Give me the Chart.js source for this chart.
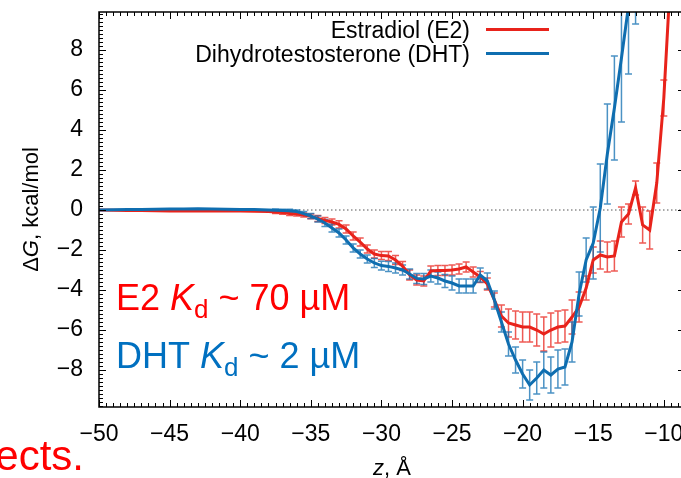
<!DOCTYPE html>
<html>
<head>
<meta charset="utf-8">
<script src="https://cdn.jsdelivr.net/npm/chart.js@4.4.0/dist/chart.umd.min.js"></script>
<style>
  html, body { margin: 0; padding: 0; background: #fff; overflow: hidden; }
  #wrap { width: 681px; height: 478px; overflow: hidden; }
  canvas { display: block; }
</style>
</head>
<body>
<div id="wrap"><canvas id="pmf" width="700" height="478"></canvas></div>
<script>
// z positions (Å) shared by both profiles
const zGrid = [-50, -49, -48, -47, -46, -45, -44, -43, -42, -41, -40, -39, -38,
  -37.5, -37, -36.5, -36, -35.5, -35, -34.5, -34, -33.5, -33, -32.5, -32, -31.5, -31,
  -30.5, -30, -29.5, -29, -28.5, -28, -27.5, -27, -26.5, -26, -25.5, -25, -24.5, -24,
  -23.5, -23, -22.5, -22, -21.5, -21, -20.5, -20, -19.5, -19, -18.5, -18, -17.5, -17,
  -16.5, -16, -15.5, -15, -14.5, -14, -13.5, -13, -12.5, -12, -11.5, -11, -10.5, -10, -9.5];

// Estradiol (E2), kcal/mol
const e2Energy = [0, -0.01, -0.02, -0.03, -0.04, -0.05, -0.05, -0.05, -0.05, -0.05, -0.05, -0.06, -0.08,
  -0.1, -0.13, -0.17, -0.2, -0.25, -0.32, -0.42, -0.52, -0.6, -0.72, -0.95, -1.3, -1.6, -1.95,
  -2.2, -2.28, -2.3, -2.5, -2.8, -3.25, -3.5, -3.55, -3.05, -3.03, -3.03, -3.0, -2.95, -2.85,
  -3.1, -3.35, -3.7, -4.5, -5.3, -5.65, -5.75, -5.85, -5.85, -6.0, -6.2, -6.0, -5.85, -5.8,
  -5.35, -4.85, -3.9, -2.5, -2.25, -2.35, -2.3, -0.6, -0.2, 1.1, -0.75, -1.0, 1.35, 5.6, 12];
const e2Error = [0, 0, 0, 0, 0, 0, 0, 0, 0, 0, 0, 0, 0,
  0.08, 0.08, 0.1, 0.1, 0.1, 0.12, 0.15, 0.15, 0.15, 0.18, 0.2, 0.2, 0.2, 0.2,
  0.2, 0.2, 0.22, 0.22, 0.22, 0.25, 0.25, 0.25, 0.25, 0.25, 0.25, 0.25, 0.25, 0.25,
  0.25, 0.28, 0.3, 0.35, 0.55, 0.7, 0.7, 0.75, 0.75, 0.8, 0.85, 0.85, 0.8, 0.8,
  0.85, 0.75, 0.6, 0.65, 0.7, 0.75, 0.75, 0.75, 0.5, 0.35, 0.9, 0.95, 1.0, 0.9, 1.0];

// Dihydrotestosterone (DHT), kcal/mol
const dhtEnergy = [0, 0.01, 0.02, 0.03, 0.04, 0.05, 0.05, 0.06, 0.05, 0.04, 0.03, 0.02, 0,
  -0.01, -0.02, -0.04, -0.08, -0.18, -0.3, -0.45, -0.65, -0.9, -1.15, -1.5, -1.9, -2.2, -2.45,
  -2.65, -2.78, -2.82, -2.9, -3.0, -3.2, -3.42, -3.45, -3.3, -3.4, -3.55, -3.65, -3.8, -3.8,
  -3.8, -3.25, -3.55, -4.5, -5.6, -6.7, -7.5, -8.2, -8.75, -8.4, -8.0, -8.25, -7.95, -7.85,
  -6.6, -4.2, -2.5, -1.65, 0.1, 2.8, 5.1, 7.6, 10.2, 12.8, null, null, null, null, null];
const dhtError = [0, 0, 0, 0, 0, 0, 0, 0, 0, 0, 0, 0, 0,
  0.06, 0.06, 0.08, 0.08, 0.1, 0.12, 0.15, 0.18, 0.2, 0.2, 0.2, 0.2, 0.2, 0.2,
  0.22, 0.22, 0.25, 0.25, 0.25, 0.25, 0.25, 0.28, 0.3, 0.3, 0.32, 0.35, 0.35, 0.35,
  0.35, 0.35, 0.4, 0.45, 0.5, 0.6, 0.65, 0.7, 0.75, 0.8, 0.9, 0.9, 0.95, 0.9,
  1.0, 1.1, 1.1, 1.8, 2.2, 2.5, 2.6, 3.2, 3.4, 3.5, 0, 0, 0, 0, 0];

const xTicks = [-50, -45, -40, -35, -30, -25, -20, -15, -10];
const yTicks = [-8, -6, -4, -2, 0, 2, 4, 6, 8];
const seriesNames = ['Estradiol (E2)', 'Dihydrotestosterone (DHT)'];

const red = '#e8231b';
const blue = '#0f6eb0';
const font = '"Liberation Sans", Arial, sans-serif';

const fmt = v => (v < 0 ? '\u2212' + Math.abs(v) : String(v));
const toPoints = vals => zGrid.map((z, i) => ({ x: z, y: vals[i] }));

// error bars, zero line, frame with inward ticks, legend and labels
const decor = {
  id: 'decor',
  beforeDatasetsDraw(chart) {
    const { ctx, chartArea: a, scales: { x, y } } = chart;
    ctx.save();
    ctx.beginPath();
    ctx.rect(a.left, a.top, a.right - a.left, a.bottom - a.top);
    ctx.clip();

    // dotted zero line
    ctx.strokeStyle = '#555';
    ctx.lineWidth = 1;
    ctx.setLineDash([1.5, 2.5]);
    ctx.beginPath();
    ctx.moveTo(a.left, y.getPixelForValue(0));
    ctx.lineTo(a.right, y.getPixelForValue(0));
    ctx.stroke();
    ctx.setLineDash([]);

    const bars = [[e2Energy, e2Error, 'rgba(232,35,27,0.75)'], [dhtEnergy, dhtError, 'rgba(15,110,176,0.75)']];
    ctx.lineWidth = 1.5;
    bars.forEach(([vals, errs, col]) => {
      ctx.strokeStyle = col;
      zGrid.forEach((z, i) => {
        if (vals[i] === null || !errs[i]) return;
        const px = x.getPixelForValue(z);
        const y1 = y.getPixelForValue(vals[i] + errs[i]);
        const y2 = y.getPixelForValue(vals[i] - errs[i]);
        ctx.beginPath();
        ctx.moveTo(px, y1); ctx.lineTo(px, y2);
        ctx.moveTo(px - 3.5, y1); ctx.lineTo(px + 3.5, y1);
        ctx.moveTo(px - 3.5, y2); ctx.lineTo(px + 3.5, y2);
        ctx.stroke();
      });
    });
    ctx.restore();
  },
  afterDatasetsDraw(chart) {
    const { ctx, chartArea: a, scales: { x, y } } = chart;
    ctx.save();
    ctx.strokeStyle = '#000';
    ctx.lineWidth = 1.5;
    ctx.strokeRect(a.left, a.top, a.right - a.left, a.bottom - a.top);

    ctx.lineWidth = 1;
    ctx.beginPath();
    for (let k = 0; k <= 83; k++) {
      const v = -50 + k * 0.5;
      if (v > x.max) break;
      const px = Math.round(x.getPixelForValue(v)) + 0.5;
      const len = k % 10 === 0 ? 7 : 4;
      ctx.moveTo(px, a.bottom); ctx.lineTo(px, a.bottom - len);
      ctx.moveTo(px, a.top); ctx.lineTo(px, a.top + len);
    }
    for (let k = -50; k <= 50; k++) {
      const v = k * 0.2;
      if (v < y.min || v > y.max) continue;
      const py = Math.round(y.getPixelForValue(v)) + 0.5;
      const len = k % 10 === 0 ? 7 : 4;
      ctx.moveTo(a.left, py); ctx.lineTo(a.left + len, py);
      ctx.moveTo(a.right, py); ctx.lineTo(a.right - len, py);
    }
    ctx.stroke();

    // legend: text right-aligned, line sample to its right
    ctx.font = '23px ' + font;
    ctx.fillStyle = '#000';
    ctx.textAlign = 'right';
    ctx.textBaseline = 'alphabetic';
    [[seriesNames[0], red, 37.5, 29.5], [seriesNames[1], blue, 61.5, 53.5]].forEach(([t, c, by, ly]) => {
      ctx.fillText(t, 470, by);
      ctx.strokeStyle = c;
      ctx.lineWidth = 3;
      ctx.beginPath();
      ctx.moveTo(486, ly); ctx.lineTo(549, ly);
      ctx.stroke();
    });

    // axis titles
    const runs = (parts, x0, y0, align) => {
      let w = 0;
      parts.forEach(p => { ctx.font = p[1]; w += ctx.measureText(p[0]).width; });
      let cx = align === 'center' ? x0 - w / 2 : x0;
      ctx.textAlign = 'left';
      parts.forEach(p => {
        ctx.font = p[1];
        ctx.fillText(p[0], cx, y0 + (p[2] || 0));
        cx += ctx.measureText(p[0]).width;
      });
    };
    ctx.fillStyle = '#000';
    runs([['z', 'italic 22px ' + font], [', \u00c5', '22px ' + font]], (a.left + a.right) / 2, 475, 'center');
    ctx.save();
    ctx.translate(38, (a.top + a.bottom) / 2);
    ctx.rotate(-Math.PI / 2);
    runs([['\u0394', '22px ' + font], ['G', 'italic 22px ' + font], [', kcal/mol', '22px ' + font]], 0, 0, 'center');
    ctx.restore();

    // binding constants
    ctx.fillStyle = '#ff0000';
    runs([['E2 ', '36px ' + font], ['K', 'italic 36px ' + font], ['d', '26px ' + font, 8], [' ~ 70 \u00b5M', '36px ' + font]], 116, 310, 'left');
    ctx.fillStyle = '#0070c0';
    runs([['DHT ', '36px ' + font], ['K', 'italic 36px ' + font], ['d', '26px ' + font, 8], [' ~ 2 \u00b5M', '36px ' + font]], 116, 368, 'left');

    // slide text cut at the left edge
    ctx.fillStyle = '#ff0000';
    ctx.font = '42px ' + font;
    ctx.textAlign = 'right';
    ctx.fillText('ects.', 84, 470);
    ctx.restore();
  }
};

new Chart(document.getElementById('pmf'), {
  type: 'line',
  data: {
    datasets: [
      { label: seriesNames[0], data: toPoints(e2Energy), borderColor: red, borderWidth: 3, order: 1 },
      { label: seriesNames[1], data: toPoints(dhtEnergy), borderColor: blue, borderWidth: 3, order: 0 }
    ]
  },
  options: {
    responsive: false,
    animation: false,
    layout: { padding: { top: 12, right: 15, left: 0, bottom: 0 } },
    elements: { point: { radius: 0 }, line: { tension: 0 } },
    plugins: { legend: { display: false }, tooltip: { enabled: false } },
    scales: {
      x: {
        type: 'linear', min: -50, max: -8.5,
        afterBuildTicks: s => { s.ticks = xTicks.map(v => ({ value: v })); },
        afterFit: s => { s.height = 71; s.paddingLeft = 0; s.paddingRight = 0; },
        grid: { display: false, drawTicks: false },
        border: { display: false },
        ticks: { color: '#000', font: { family: font, size: 23 }, padding: 14, maxRotation: 0, autoSkip: false, callback: v => fmt(v) }
      },
      y: {
        type: 'linear', min: -9.85, max: 9.9,
        afterBuildTicks: s => { s.ticks = yTicks.map(v => ({ value: v })); },
        afterFit: s => { s.width = 99; s.paddingTop = 0; s.paddingBottom = 0; },
        grid: { display: false, drawTicks: false },
        border: { display: false },
        ticks: { color: '#000', font: { family: font, size: 23 }, padding: 16, callback: v => fmt(v) }
      }
    }
  },
  plugins: [decor]
});
</script>
</body>
</html>
